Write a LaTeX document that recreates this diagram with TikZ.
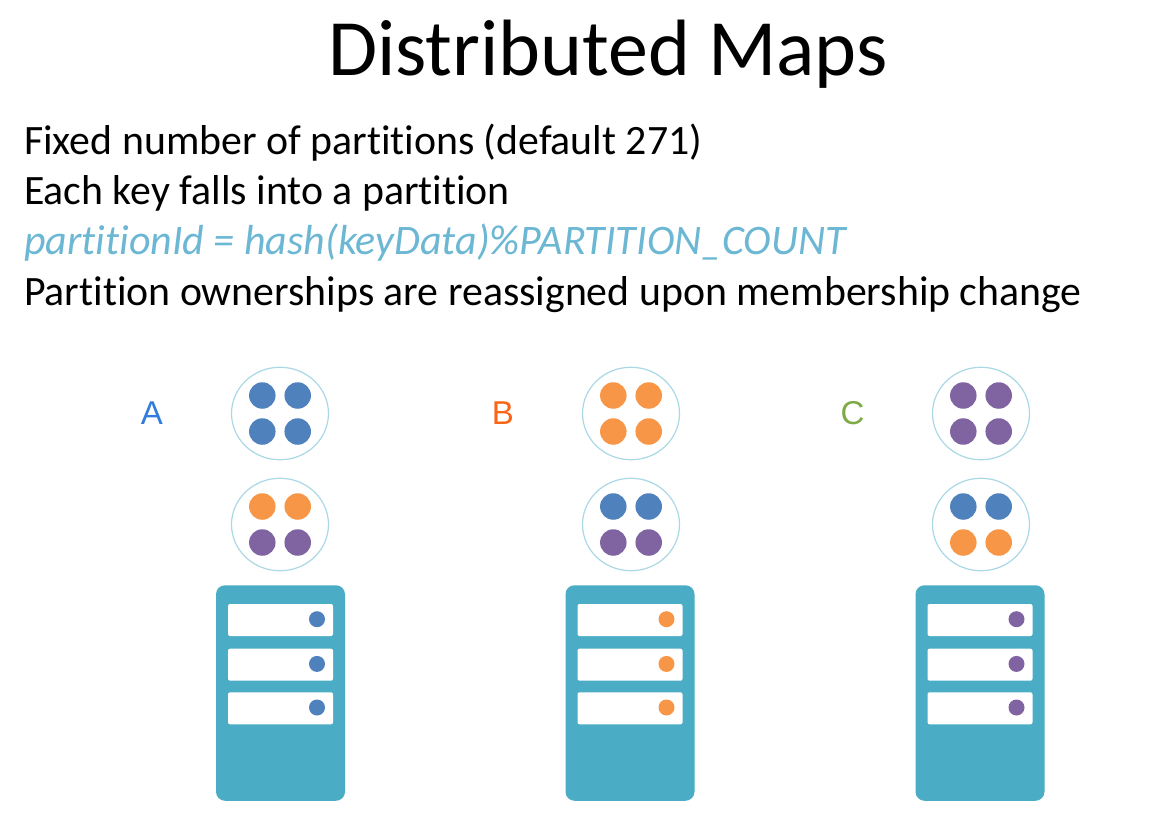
\documentclass[tikz,border=0pt]{standalone}
\usetikzlibrary{shapes.geometric}
\usepackage{fontspec}
\setmainfont[Ligatures=NoCommon]{Carlito}
\newfontfamily\arialf{Liberation Sans}
\definecolor{cblue}{RGB}{79,129,189}
\definecolor{corange}{RGB}{247,150,70}
\definecolor{cpurple}{RGB}{128,100,162}
\definecolor{cteal}{RGB}{75,172,198}
\definecolor{ring}{RGB}{170,216,230}
\definecolor{formula}{RGB}{107,183,212}
\tikzset{x=1pt,y=-1pt,
 ringc/.style={ellipse,draw=ring,line width=1.2pt,minimum width=97pt,minimum height=92.5pt,inner sep=0pt,fill=white},
 dotb/.style={circle,fill=cblue,minimum size=26.5pt,inner sep=0pt},
 doto/.style={circle,fill=corange,minimum size=26.5pt,inner sep=0pt},
 dotp/.style={circle,fill=cpurple,minimum size=26.5pt,inner sep=0pt},
 tower/.style={rounded corners=9pt,fill=cteal,minimum width=129pt,minimum height=215.5pt,inner sep=0pt},
 slot/.style={rounded corners=2pt,fill=white,minimum width=105pt,minimum height=32pt,inner sep=0pt},
 led/.style={circle,minimum size=16pt,inner sep=0pt},
 bodytext/.style={anchor=base west,font=\fontsize{41.8}{42}\selectfont,inner sep=0pt},
 letter/.style={anchor=center,font=\arialf\fontsize{33}{33}\selectfont,inner sep=0pt}}
\newcommand{\ringdots}[6]{%
 \node[ringc] (r#1) at (#2,#3) {};
 \node[#4] (r#1a) at (#2-17.7,#3-18) {};
 \node[#4] (r#1b) at (#2+17.7,#3-18) {};
 \node[#5] (r#1c) at (#2-17.7,#3+18) {};
 \node[#6] (r#1d) at (#2+17.7,#3+18) {};}
\newcommand{\towerdraw}[3]{%
 \node[tower] (t#1) at (#2,693) {};
 \foreach \yy/\nn in {620/a,664.7/b,708.3/c}{
  \node[slot] (s#1\nn) at (#2,\yy) {};
  \node[led,fill=#3] (l#1\nn) at (#2+36.5,\yy-0.8) {};}}
\begin{document}
\begin{tikzpicture}
\useasboundingbox (0,0) rectangle (1163,825);
\fill[white] (0,0) rectangle (1163,825);
\node[anchor=base,font=\fontsize{79.9}{80}\selectfont,inner sep=0pt] (title) at (608,75) {Distributed Maps};
\node[bodytext] (l1) at (24,154.5) {Fixed number of partitions (default 271)};
\node[bodytext] (l2) at (24,204.5) {Each key falls into a partition};
\node[bodytext,text=formula,font=\fontsize{42}{42}\selectfont\itshape] (l3) at (24,254.5) {partitionId = hash(keyData)\%PARTITION\_COUNT};
\node[bodytext] (l4) at (24,305) {Partition ownerships are reassigned upon membership change};
\node[letter,text={rgb,255:red,50;green,125;blue,220}] (la) at (152,413) {A};
\node[letter,text={rgb,255:red,250;green,100;blue,20}] (lb) at (503,413) {B};
\node[letter,text={rgb,255:red,125;green,170;blue,70}] (lc) at (852.5,413) {C};
\ringdots{a1}{280}{413.5}{dotb}{dotb}{dotb}
\ringdots{a2}{280}{524.5}{doto}{dotp}{dotp}
\ringdots{b1}{631}{413.5}{doto}{doto}{doto}
\ringdots{b2}{631}{524.5}{dotb}{dotp}{dotp}
\ringdots{c1}{981}{413.5}{dotp}{dotp}{dotp}
\ringdots{c2}{981}{524.5}{dotb}{doto}{doto}
\towerdraw{a}{280.5}{cblue}
\towerdraw{b}{630}{corange}
\towerdraw{c}{980}{cpurple}
\end{tikzpicture}
\end{document}
